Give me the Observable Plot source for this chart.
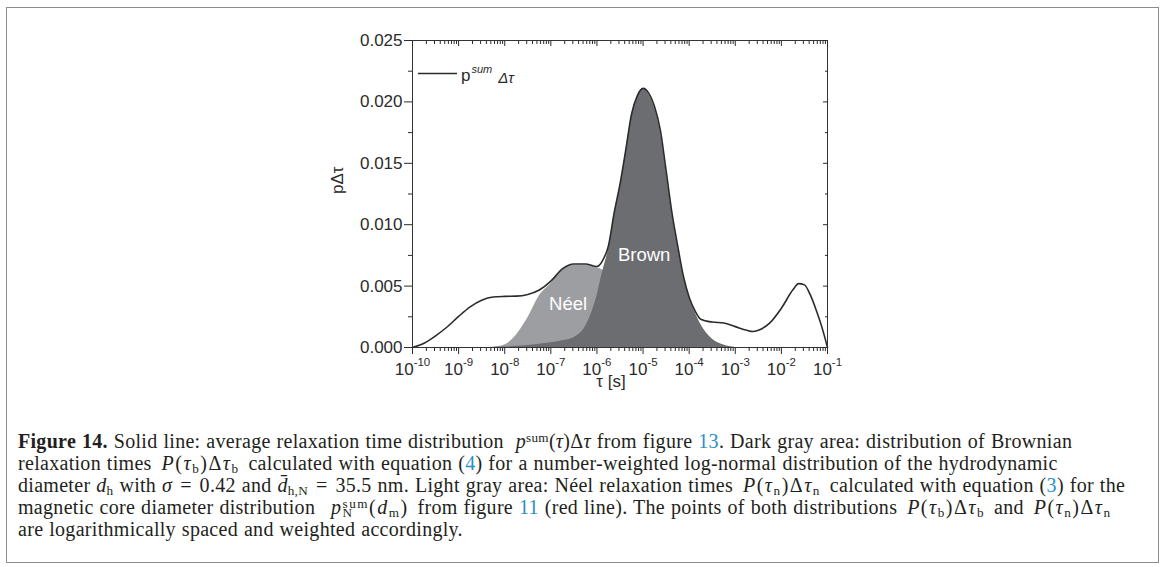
<!DOCTYPE html>
<html><head><meta charset="utf-8">
<script src="https://cdn.jsdelivr.net/npm/d3@7"></script>
<script src="https://cdn.jsdelivr.net/npm/@observablehq/plot@0.6"></script>
<style>
html,body{margin:0;padding:0;background:#fff;}
#fig{position:relative;width:1165px;height:567px;overflow:hidden;background:#fff;}
#box{position:absolute;left:6px;top:7px;width:1153px;height:556px;border:1.5px solid #8c8c8c;box-sizing:border-box;}
#chart{position:absolute;left:0;top:0;}
#caption{position:absolute;left:18px;top:430px;font-family:"Liberation Serif","Times New Roman",serif;font-size:20px;letter-spacing:0.3px;word-spacing:0.6px;line-height:22px;color:#231f20;white-space:nowrap;}
.ln{display:block;height:22px;}
.sub{font-size:0.66em;position:relative;top:0.22em;}
.sup{font-size:0.66em;position:relative;top:-0.42em;}
.zw{display:inline-block;width:0;}
.m{letter-spacing:1.5px;margin:0 3px 0 4px;}
.eq{margin:0 2px;}
a{color:#2a8fc8;text-decoration:none;}
</style>
</head><body>
<div id="fig">
  <div id="box"></div>
  <div id="chart"></div>
  <div id="caption">
    <span class="ln"><b>Figure 14.</b> Solid line: average relaxation time distribution &nbsp;<i>p</i><span class="sup">sum</span>(<i>τ</i>)Δ<i>τ</i> from figure <a>13</a>. Dark gray area: distribution of Brownian</span>
    <span class="ln">relaxation times <span class="m"><i>P</i>(<i>τ</i><span class="sub">b</span>)Δ<i>τ</i><span class="sub">b</span></span> calculated with equation (<a>4</a>) for a number-weighted log-normal distribution of the hydrodynamic</span>
    <span class="ln">diameter <i>d</i><span class="sub">h</span> with <i>σ</i> <span class="eq">=</span> 0.42 and <i>d̄</i><span class="sub">h,N</span> <span class="eq">=</span> 35.5 nm. Light gray area: Néel relaxation times <span class="m"><i>P</i>(<i>τ</i><span class="sub">n</span>)Δ<i>τ</i><span class="sub">n</span></span> calculated with equation (<a>3</a>) for the</span>
    <span class="ln">magnetic core diameter distribution &nbsp;<span class="m"><i>p</i><span class="sub zw">N</span><span class="sup">sum</span>(<i>d</i><span class="sub">m</span>)</span> from figure <a>11</a> (red line). The points of both distributions <span class="m"><i>P</i>(<i>τ</i><span class="sub">b</span>)Δ<i>τ</i><span class="sub">b</span></span> and <span class="m"><i>P</i>(<i>τ</i><span class="sub">n</span>)Δ<i>τ</i><span class="sub">n</span></span></span>
    <span class="ln">are logarithmically spaced and weighted accordingly.</span>
  </div>
</div>
<script>
// ---- data (x as log10 of tau in seconds) ----
const lineExp = [-10, -9.75, -9.5, -9.25, -9, -8.75, -8.5, -8.25, -8, -7.75, -7.5, -7.25, -7, -6.75, -6.5, -6.25, -6, -5.875, -5.75, -5.625, -5.5, -5.375, -5.25, -5.125, -5, -4.875, -4.75, -4.625, -4.5, -4.375, -4.25, -4.125, -4, -3.875, -3.75, -3.5, -3.25, -3, -2.75, -2.625, -2.5, -2.25, -2, -1.75, -1.625, -1.5, -1.375, -1.25, -1.125, -1];
const lineVal = [0, 0.00035, 0.00095, 0.00167, 0.00253, 0.00331, 0.00385, 0.00411, 0.00416, 0.00418, 0.00432, 0.00468, 0.0054, 0.0064, 0.0068, 0.0068, 0.0066, 0.0071, 0.0083, 0.0110, 0.0133, 0.0161, 0.0190, 0.0205, 0.0211, 0.0207, 0.0196, 0.0177, 0.0144, 0.0110, 0.0083, 0.0058, 0.0041, 0.0030, 0.0023, 0.00207, 0.0020, 0.0017, 0.0014, 0.0013, 0.0014, 0.0020, 0.0032, 0.0047, 0.0052, 0.0051, 0.0043, 0.0031, 0.0017, 0];

const brownExp = [-8.5, -8.25, -8, -7.75, -7.5, -7.25, -7, -6.75, -6.5, -6.25, -6, -5.875, -5.75, -5.625, -5.5, -5.375, -5.25, -5.125, -5, -4.875, -4.75, -4.625, -4.5, -4.375, -4.25, -4.125, -4, -3.875, -3.75, -3.5, -3.25, -3];
const brownVal = [0, 0.00001, 0.00004, 0.0001, 0.00016, 0.00026, 0.00038, 0.00055, 0.0008, 0.0017, 0.0042, 0.0062, 0.0080, 0.0108, 0.0131, 0.0159, 0.0188, 0.0204, 0.0211, 0.0206, 0.0195, 0.0176, 0.0144, 0.0110, 0.0083, 0.0058, 0.0041, 0.0029, 0.0019, 0.0007, 0.0002, 0];

const neelExp = [-8.5, -8.25, -8, -7.75, -7.5, -7.25, -7, -6.75, -6.5, -6.25, -6, -5.875, -5.75, -5.5, -5.25, -5, -4.75, -4.5, -4.25, -4];
const neelVal = [0, 0.00003, 0.0002, 0.0010, 0.0024, 0.0042, 0.0052, 0.0063, 0.0067, 0.0067, 0.0065, 0.0063, 0.0058, 0.0045, 0.003, 0.0018, 0.0009, 0.0004, 0.0001, 0];

const labelNames = ["Brown", "Néel"];
const labelExp = [-4.976, -6.625];
const labelVal = [0.0075, 0.0035];

const xMajorExp = [-10, -9, -8, -7, -6, -5, -4, -3, -2, -1];
const yMajor = [0, 0.005, 0.010, 0.015, 0.020, 0.025];
const yMinor = [0.0025, 0.0075, 0.0125, 0.0175, 0.0225];
const legendLabel = ["p", "sum", "Δτ"];
const yLabel = ["p", "Δτ"];
const xLabel = ["τ", " [s]"];

// ---- build tables ----
const toRows = (ex, vs) => ex.map((e, i) => ({tau: Math.pow(10, e), v: vs[i]}));
const lineData = toRows(lineExp, lineVal);
const brownData = toRows(brownExp, brownVal);
const neelData = toRows(neelExp, neelVal);
const labels = labelNames.map((n, i) => ({name: n, tau: Math.pow(10, labelExp[i]), v: labelVal[i]}));
const xMajor = xMajorExp.map(e => Math.pow(10, e));
const xMinor = [];
for (let k = -10; k < -1; k++) for (let m = 2; m <= 9; m++) xMinor.push(m * Math.pow(10, k));

const SANS = "'Liberation Sans', Arial, Helvetica, sans-serif";
const INK = "#2b2b2b";
const blank = () => "";

const chart = Plot.plot({
  width: 1165, height: 567,
  marginLeft: 412, marginRight: 338, marginTop: 40, marginBottom: 220,
  style: {fontFamily: SANS, fontSize: "17px", color: INK, background: "transparent", overflow: "visible"},
  x: {type: "log", domain: [1e-10, 1e-1], label: null},
  y: {domain: [0, 0.025], label: null},
  marks: [
    Plot.areaY(neelData, {x: "tau", y: "v", fill: "#9d9ea1", curve: "monotone-x"}),
    Plot.areaY(brownData, {x: "tau", y: "v", fill: "#6c6d71", curve: "monotone-x"}),
    Plot.line(lineData, {x: "tau", y: "v", stroke: INK, strokeWidth: 1.6, curve: "monotone-x"}),
    Plot.text(labels, {x: "tau", y: "v", text: "name", fill: "white", fontSize: 18.5, fontFamily: SANS}),
    Plot.frame({stroke: "#333", strokeWidth: 1}),
    Plot.axisX({anchor: "bottom", ticks: xMajor, tickSize: 7, tickPadding: 8, tickFormat: d => "10^" + Math.round(Math.log10(d)), label: null, fontSize: 17}),
    Plot.axisX({anchor: "bottom", ticks: xMinor, tickSize: 4, tickFormat: blank, label: null}),
    Plot.axisX({anchor: "top", ticks: xMajor, tickSize: 5, dy: 5, tickFormat: blank, label: null}),
    Plot.axisX({anchor: "top", ticks: xMinor, tickSize: 3, dy: 3, tickFormat: blank, label: null}),
    Plot.axisY({anchor: "left", ticks: yMajor, tickSize: 8, tickPadding: 2, tickFormat: d3.format(".3f"), label: null, fontSize: 17}),
    Plot.axisY({anchor: "left", ticks: yMinor, tickSize: 4, tickFormat: blank, label: null}),
    Plot.axisY({anchor: "right", ticks: yMajor, tickSize: 5, dx: -5, tickFormat: blank, label: null}),
    Plot.axisY({anchor: "right", ticks: yMinor, tickSize: 3, dx: -3, tickFormat: blank, label: null}),
    Plot.text([yLabel.join("")], {frameAnchor: "left", dx: -75, rotate: -90, fontSize: 17, fill: INK, ariaLabel: "ylabel"}),
    Plot.text([xLabel.join("")], {frameAnchor: "bottom", dy: 39, dx: -9, fontSize: 17, fill: INK, ariaLabel: "xlabel"})
  ]
});
document.getElementById("chart").appendChild(chart);

// superscript exponents on x tick labels
d3.select(chart).selectAll('g[aria-label="x-axis tick label"] text').each(function () {
  const t = this.textContent;
  if (!t.includes("^")) return;
  const [b, e] = t.split("^");
  const s = d3.select(this);
  s.text(null);
  s.append("tspan").text(b);
  s.append("tspan").attr("dy", "-0.78em").attr("font-size", "11.5px").text(e);
});
// italic parts of axis titles
d3.select(chart).selectAll('g[aria-label="ylabel"] text').each(function () {
  const s = d3.select(this); s.text(null);
  s.append("tspan").text(yLabel[0]);
  s.append("tspan").attr("font-style", "italic").text(yLabel[1]);
});
d3.select(chart).selectAll('g[aria-label="xlabel"] text').each(function () {
  const s = d3.select(this); s.text(null);
  s.append("tspan").attr("font-style", "italic").text(xLabel[0]);
  s.append("tspan").text(xLabel[1]);
});
// legend inside the frame
const lg = d3.select(chart).append("g").attr("aria-label", "legend");
lg.append("line").attr("x1", 418).attr("x2", 457).attr("y1", 73.5).attr("y2", 73.5).attr("stroke", INK).attr("stroke-width", 1.6);
const lt = lg.append("text").attr("x", 461).attr("y", 81).attr("fill", INK).attr("font-size", 17).attr("text-anchor", "start");
lt.append("tspan").text(legendLabel[0]);
lt.append("tspan").attr("dx", 1).attr("dy", -8.5).attr("font-size", 11).attr("font-style", "italic").text(legendLabel[1]);
lt.append("tspan").attr("dx", 6).attr("dy", 10).attr("font-size", 15).attr("font-style", "italic").text(legendLabel[2]);
</script>
</body></html>
